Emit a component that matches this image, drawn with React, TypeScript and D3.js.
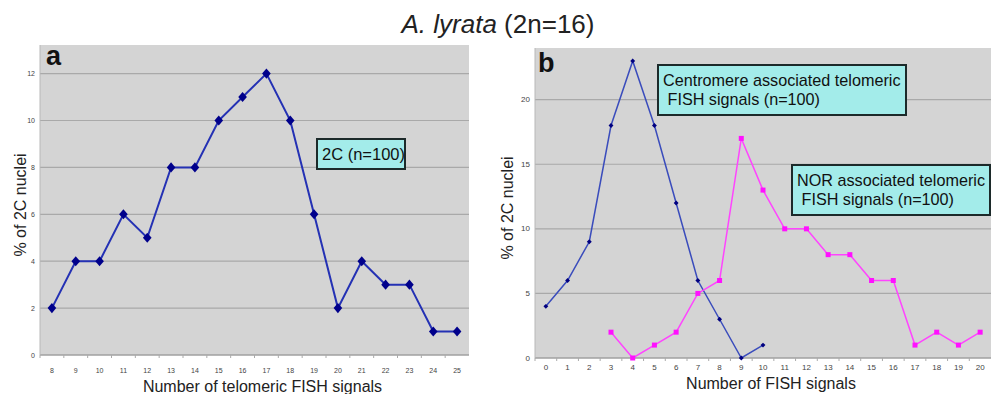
import { useEffect, useRef } from "react";
import * as d3 from "d3";

// panel a: total telomeric signals
const aCategories = d3.range(8, 26).map(String);
const aValues = [2, 4, 4, 6, 5, 8, 8, 10, 11, 12, 10, 6, 2, 4, 3, 3, 1, 1];
const aTicks = [0, 2, 4, 6, 8, 10, 12];

// panel b: centromere vs NOR associated
const bCategories = d3.range(0, 21).map(String);
const centromere = [4, 6, 9, 18, 23, 18, 12, 6, 3, 0, 1];
const centromereCats = d3.range(0, 11).map(String);
const nor = [2, 0, 1, 2, 5, 6, 17, 13, 10, 10, 8, 8, 6, 6, 1, 2, 1, 2];
const norCats = d3.range(3, 21).map(String);
const bTicks = [0, 5, 10, 15, 20];

const FONT = "Liberation Sans, Arial, sans-serif";

export default function App() {
  const svgRef = useRef<SVGSVGElement>(null);

  useEffect(() => {
    const svg = d3.select(svgRef.current);
    svg.selectAll("*").remove();
    svg.attr("font-family", FONT);

    // title
    const title = svg.append("text")
      .attr("x", 498).attr("y", 33)
      .attr("text-anchor", "middle")
      .attr("font-size", 26).attr("fill", "#222");
    title.append("tspan").attr("font-style", "italic").text("A. lyrata");
    title.append("tspan").text(" (2n=16)");

    const panel = (opts: {
      left: number; right: number; top: number; bottom: number;
      cats: string[]; ymax: number; ticks: number[];
      yLabelX: number; yTitleX: number; tickLabelY: number; tickFont: number;
      xTitle: string; xTitleY: number; letter: string; letterX: number; letterY: number;
    }) => {
      const x = d3.scaleBand().domain(opts.cats).range([opts.left, opts.right]);
      const y = d3.scaleLinear().domain([0, opts.ymax]).range([opts.bottom, opts.top]);
      const g = svg.append("g");

      g.append("rect")
        .attr("x", opts.left).attr("y", opts.top)
        .attr("width", opts.right - opts.left).attr("height", opts.bottom - opts.top)
        .attr("fill", "#d4d4d4");

      // gridlines
      g.selectAll("line.grid")
        .data(opts.ticks.filter(t => t > 0))
        .join("line")
        .attr("x1", opts.left).attr("x2", opts.right)
        .attr("y1", d => y(d)).attr("y2", d => y(d))
        .attr("stroke", "#a9a9a9").attr("stroke-width", 1.2);

      // axes lines
      g.append("line")
        .attr("x1", opts.left).attr("x2", opts.right)
        .attr("y1", opts.bottom).attr("y2", opts.bottom)
        .attr("stroke", "#a0a0a0").attr("stroke-width", 1.5);
      g.append("line")
        .attr("x1", opts.left).attr("x2", opts.left)
        .attr("y1", opts.top).attr("y2", opts.bottom)
        .attr("stroke", "#b8b8b8").attr("stroke-width", 1);

      // x tick marks at category boundaries
      g.selectAll("line.xt")
        .data(opts.cats)
        .join("line")
        .attr("x1", d => x(d)!).attr("x2", d => x(d)!)
        .attr("y1", opts.bottom).attr("y2", opts.bottom + 3)
        .attr("stroke", "#aaa");

      g.selectAll("text.xl")
        .data(opts.cats)
        .join("text")
        .attr("x", d => x(d)! + x.bandwidth() / 2)
        .attr("y", opts.tickLabelY)
        .attr("text-anchor", "middle")
        .attr("font-size", opts.tickFont).attr("fill", "#444")
        .text(d => d);

      g.selectAll("text.yl")
        .data(opts.ticks)
        .join("text")
        .attr("x", opts.yLabelX)
        .attr("y", d => y(d) + 2.5)
        .attr("text-anchor", "end")
        .attr("font-size", opts.tickFont).attr("fill", "#444")
        .text(d => d);

      g.append("text")
        .attr("transform", `translate(${opts.yTitleX},${(opts.top + opts.bottom) / 2 + 5}) rotate(-90)`)
        .attr("text-anchor", "middle")
        .attr("font-size", 16).attr("fill", "#222")
        .text("% of 2C nuclei");

      g.append("text")
        .attr("x", (opts.left + opts.right) / 2 + 8).attr("y", opts.xTitleY)
        .attr("text-anchor", "middle")
        .attr("font-size", 16).attr("fill", "#222")
        .text(opts.xTitle);

      g.append("text")
        .attr("x", opts.letterX).attr("y", opts.letterY)
        .attr("font-size", 27).attr("font-weight", "bold").attr("fill", "#111")
        .text(opts.letter);

      return { x, y, g };
    };

    const legend = (x0: number, y0: number, w: number, h: number, lines: string[], size: number, dy: number) => {
      svg.append("rect")
        .attr("x", x0).attr("y", y0).attr("width", w).attr("height", h)
        .attr("fill", "#a3ecea").attr("stroke", "#1c2a2a").attr("stroke-width", 2);
      lines.forEach((l, i) => {
        svg.append("text")
          .attr("x", x0 + 5).attr("y", y0 + dy + i * 19)
          .attr("font-size", size).attr("fill", "#111")
          .attr("xml:space", "preserve")
          .text(l);
      });
    };

    // ---- panel a
    const A = panel({
      left: 40, right: 469, top: 45, bottom: 355,
      cats: aCategories, ymax: 13.22, ticks: aTicks,
      yLabelX: 35, yTitleX: 26, tickLabelY: 373, tickFont: 7,
      xTitle: "Number of telomeric FISH signals", xTitleY: 392,
      letter: "a", letterX: 46, letterY: 65,
    });
    const ax = (c: string) => A.x(c)! + A.x.bandwidth() / 2;
    A.g.append("path")
      .datum(aValues)
      .attr("d", d3.line<number>().x((_, i) => ax(aCategories[i])).y(d => A.y(d)))
      .attr("fill", "none").attr("stroke", "#2431b4").attr("stroke-width", 2);
    A.g.selectAll("path.dia")
      .data(aValues)
      .join("path")
      .attr("d", d3.symbol(d3.symbolSquare, 46)())
      .attr("transform", (d, i) => `translate(${ax(aCategories[i])},${A.y(d)}) scale(0.9,1.05) rotate(45)`)
      .attr("fill", "#00008b");
    legend(317, 139, 88, 30, ["2C (n=100)"], 16.5, 21);

    // ---- panel b
    const B = panel({
      left: 535, right: 991, top: 48, bottom: 358,
      cats: bCategories, ymax: 24, ticks: bTicks,
      yLabelX: 530, yTitleX: 513, tickLabelY: 370, tickFont: 8,
      xTitle: "Number of FISH signals", xTitleY: 389,
      letter: "b", letterX: 538, letterY: 72,
    });
    const bx = (c: string) => B.x(c)! + B.x.bandwidth() / 2;
    B.g.append("path")
      .datum(centromere)
      .attr("d", d3.line<number>().x((_, i) => bx(centromereCats[i])).y(d => B.y(d)))
      .attr("fill", "none").attr("stroke", "#3a4cbc").attr("stroke-width", 1.5);
    B.g.selectAll("path.cd")
      .data(centromere)
      .join("path")
      .attr("d", d3.symbol(d3.symbolSquare, 12)())
      .attr("transform", (d, i) => `translate(${bx(centromereCats[i])},${B.y(d)}) rotate(45)`)
      .attr("fill", "#000080");
    B.g.append("path")
      .datum(nor)
      .attr("d", d3.line<number>().x((_, i) => bx(norCats[i])).y(d => B.y(d)))
      .attr("fill", "none").attr("stroke", "#ff44ff").attr("stroke-width", 1.5);
    B.g.selectAll("rect.nd")
      .data(nor)
      .join("rect")
      .attr("x", (d, i) => bx(norCats[i]) - 2.5)
      .attr("y", d => B.y(d) - 2.5)
      .attr("width", 5).attr("height", 5)
      .attr("fill", "#ff10ff");

    legend(658, 65, 248, 50, ["Centromere associated telomeric", " FISH signals (n=100)"], 16.2, 21);
    legend(792, 165, 198, 50, ["NOR associated telomeric", " FISH signals (n=100)"], 16.2, 21);
  }, []);

  return (
    <svg
      ref={svgRef}
      width={991}
      height={394}
      style={{ position: "absolute", left: 0, top: 0, background: "#fff" }}
    />
  );
}
